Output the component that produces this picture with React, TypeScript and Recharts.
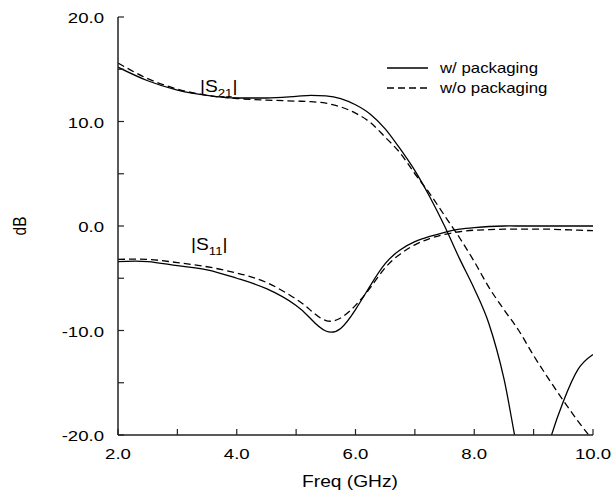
import { Line, LineChart, XAxis, YAxis } from "recharts";

// frequency points (GHz)
const FREQ = [2.0, 2.5, 3.0, 3.5, 4.0, 4.5, 5.0, 5.25, 5.5, 5.75, 6.0, 6.25, 6.5, 6.75, 7.0, 7.25, 7.5, 7.75, 8.0, 8.25, 8.5, 8.75, 9.0, 9.25, 9.5, 9.75, 10.0];

// |S21| in dB
const S21_PKG = [15.2, 13.9, 13.0, 12.5, 12.25, 12.25, 12.4, 12.5, 12.45, 12.2, 11.6, 10.7, 9.3, 7.4, 5.3, 2.8, 0.0, -3.1, -6.0, -9.4, -14.6, -22.0, -27.0, -21.0, -16.8, -13.7, -12.3];
const S21_NOPKG = [15.6, 14.1, 13.1, 12.5, 12.2, 12.05, 11.95, 11.9, 11.75, 11.4, 10.8, 9.9, 8.5, 7.0, 5.0, 3.1, 1.0, -1.1, -3.4, -5.9, -8.0, -10.0, -12.4, -14.6, -16.7, -18.7, -20.5];

// |S11| in dB
const S11_PKG = [-3.4, -3.4, -3.8, -4.2, -5.0, -6.0, -7.6, -8.9, -10.05, -9.8, -8.0, -5.7, -3.6, -2.3, -1.5, -1.0, -0.6, -0.3, -0.15, -0.05, 0.0, 0.0, 0.0, 0.0, 0.0, 0.0, 0.0];
const S11_NOPKG = [-3.2, -3.2, -3.5, -3.9, -4.5, -5.4, -7.0, -8.1, -9.05, -8.8, -7.6, -5.9, -4.0, -2.7, -1.8, -1.2, -0.8, -0.55, -0.4, -0.35, -0.3, -0.3, -0.3, -0.3, -0.35, -0.4, -0.45];

const X_TICKS = [2, 3, 4, 5, 6, 7, 8, 9, 10];
const Y_TICKS = [-20, -15, -10, -5, 0, 5, 10, 15, 20];
const LEGEND = [
  { name: "w/ packaging", dash: undefined },
  { name: "w/o packaging", dash: "7 4" },
];

const rows = FREQ.map((f, i) => ({
  f,
  s21p: S21_PKG[i],
  s21n: S21_NOPKG[i],
  s11p: S11_PKG[i],
  s11n: S11_NOPKG[i],
}));

const FONT = "'Liberation Sans', Arial, Helvetica, sans-serif";
const SX = 1.2; // the scan is stretched horizontally
const TICK = 6;
const AXIS = "#222";
const DASH = "7 4";

function Txt({ x, y, size = 15.5, anchor = "middle", children }: any) {
  return (
    <text
      transform={`translate(${x} ${y}) scale(${SX} 1)`}
      textAnchor={anchor}
      fontFamily={FONT}
      fontSize={size}
      fill="#000"
    >
      {children}
    </text>
  );
}

function XTick({ x, y, payload }: any) {
  const v = payload.value;
  return (
    <g>
      <line x1={x} x2={x} y1={y} y2={y - TICK} stroke={AXIS} strokeWidth={1.2} />
      {v % 2 === 0 && (
        <Txt x={x} y={y + 24}>
          {v.toFixed(1)}
        </Txt>
      )}
    </g>
  );
}

function XTickTop({ x, y }: any) {
  return <line x1={x} x2={x} y1={y} y2={y + TICK} stroke={AXIS} strokeWidth={1.2} />;
}

function YTick({ x, y, payload }: any) {
  const v = payload.value;
  return (
    <g>
      <line x1={x} x2={x + TICK} y1={y} y2={y} stroke={AXIS} strokeWidth={1.2} />
      {v % 10 === 0 && (
        <Txt x={x - 14} y={y + 6} anchor="end">
          {v.toFixed(1)}
        </Txt>
      )}
    </g>
  );
}

function YTickRight({ x, y }: any) {
  return <line x1={x} x2={x - TICK} y1={y} y2={y} stroke={AXIS} strokeWidth={1.2} />;
}

export default function App() {
  return (
    <div style={{ position: "absolute", left: 0, top: 0, background: "#fff" }}>
      <LineChart width={615} height={495} data={rows} margin={{ top: 17, right: 22, bottom: 0, left: 0 }}>
        <XAxis
          dataKey="f"
          type="number"
          domain={[2, 10]}
          ticks={X_TICKS}
          allowDataOverflow
          height={60}
          tickSize={0}
          tickMargin={0}
          tick={<XTick />}
          axisLine={{ stroke: AXIS, strokeWidth: 1.5 }}
          tickLine={false}
          interval={0}
        />
        <XAxis
          xAxisId="top"
          orientation="top"
          type="number"
          domain={[2, 10]}
          ticks={X_TICKS}
          height={0}
          tickSize={0}
          tickMargin={0}
          tick={<XTickTop />}
          axisLine={{ stroke: AXIS, strokeWidth: 1.5 }}
          tickLine={false}
          interval={0}
        />
        <YAxis
          type="number"
          domain={[-20, 20]}
          ticks={Y_TICKS}
          allowDataOverflow
          width={118}
          tickSize={0}
          tickMargin={0}
          tick={<YTick />}
          axisLine={{ stroke: AXIS, strokeWidth: 1.5 }}
          tickLine={false}
          interval={0}
        />
        <YAxis
          yAxisId="right"
          orientation="right"
          type="number"
          domain={[-20, 20]}
          ticks={Y_TICKS}
          width={0}
          tickSize={0}
          tickMargin={0}
          tick={<YTickRight />}
          axisLine={{ stroke: AXIS, strokeWidth: 1.5 }}
          tickLine={false}
          interval={0}
        />
        <Line dataKey="s21p" type="monotone" stroke="#000" strokeWidth={1.3} dot={false} isAnimationActive={false} />
        <Line dataKey="s21n" type="monotone" stroke="#000" strokeWidth={1.3} strokeDasharray={DASH} dot={false} isAnimationActive={false} />
        <Line dataKey="s11p" type="natural" stroke="#000" strokeWidth={1.3} dot={false} isAnimationActive={false} />
        <Line dataKey="s11n" type="natural" stroke="#000" strokeWidth={1.3} strokeDasharray={DASH} dot={false} isAnimationActive={false} />
        {LEGEND.map((item, i) => (
          <g key={item.name}>
            <line x1={387} x2={428} y1={68 + i * 20} y2={68 + i * 20} stroke="#000" strokeWidth={1.3} strokeDasharray={item.dash} />
            <Txt x={440} y={73 + i * 20} size={14} anchor="start">
              {item.name}
            </Txt>
          </g>
        ))}
        <Txt x={200} y={92} size={16} anchor="start">
          |S<tspan fontSize={11} dy={5}>21</tspan>
          <tspan dy={-5}>|</tspan>
        </Txt>
        <Txt x={191} y={250} size={16} anchor="start">
          |S<tspan fontSize={11} dy={5}>11</tspan>
          <tspan dy={-5}>|</tspan>
        </Txt>
        <text
          transform="translate(26 226) rotate(-90) scale(1 1.2)"
          textAnchor="middle"
          fontFamily={FONT}
          fontSize={15.5}
        >
          dB
        </text>
        <Txt x={350} y={487} size={16}>
          Freq (GHz)
        </Txt>
      </LineChart>
    </div>
  );
}
